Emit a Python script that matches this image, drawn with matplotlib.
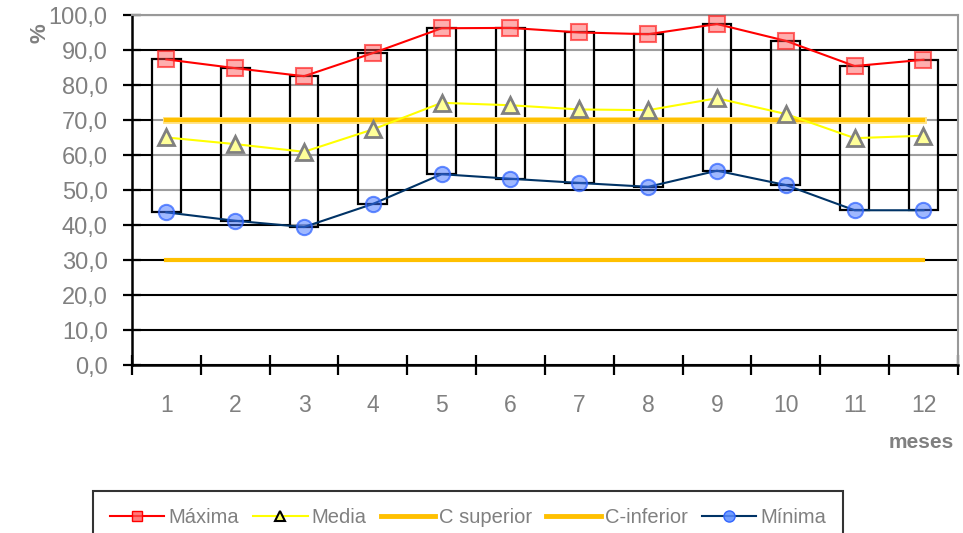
import matplotlib
matplotlib.use("Agg")
import matplotlib.pyplot as plt
import matplotlib.patheffects as pe
from matplotlib.lines import Line2D
from matplotlib.ticker import FixedLocator, FuncFormatter

plt.rcParams['font.family'] = ['Liberation Sans', 'DejaVu Sans']

# Monthly relative humidity (%)
meses = [1, 2, 3, 4, 5, 6, 7, 8, 9, 10, 11, 12]
maxima = [87.4, 84.9, 82.6, 89.2, 96.3, 96.4, 95.1, 94.6, 97.5, 92.7, 85.5, 87.3]
media = [65.1, 63.2, 61.0, 67.4, 75.0, 74.3, 73.1, 72.9, 76.3, 71.8, 64.9, 65.6]
minima = [43.7, 41.3, 39.5, 46.1, 54.6, 53.3, 52.1, 51.0, 55.6, 51.5, 44.3, 44.3]
c_superior = [70.0] * 12
c_inferior = [30.0] * 12

grey = '#808080'

fig = plt.figure(figsize=(9.63, 5.33), dpi=100)
ax = fig.add_axes([0.137, 0.3146, 0.8577, 0.6567])

# Range boxes from daily minimum to maximum
span = [a - b for a, b in zip(maxima, minima)]
ax.bar(meses, span, bottom=minima, width=0.42, facecolor=(1, 1, 1, 0.62),
       edgecolor='black', linewidth=1.6, zorder=2)

# Threshold lines
ax.plot(meses, c_superior, color='#FFC000', lw=3, zorder=3,
        path_effects=[pe.Stroke(linewidth=5, foreground='#FFE48A'), pe.Normal()])
ax.plot(meses, c_inferior, color='#FFC000', lw=3, zorder=3)

# Series
ax.plot(meses, maxima, color='#FF0000', lw=1.5, marker='s', ms=11,
        mfc=(1, 0.3, 0.3, 0.45), mec=(1, 0.1, 0.1, 0.65), mew=1.5, zorder=4)
ax.plot(meses, media, color='#FFFF00', lw=1.5, marker='^', ms=11,
        mfc='#FFFF99', mec=grey, mew=2, zorder=4)
ax.plot(meses, minima, color='#003366', lw=1.5, marker='o', ms=11,
        mfc=(0.25, 0.45, 1, 0.5), mec=(0.2, 0.4, 1, 0.75), mew=1.5, zorder=4)

ax.set_xlim(0.5, 12.5)
ax.set_ylim(0, 100)

ax.set_yticks([0, 10, 20, 30, 40, 50, 60, 70, 80, 90, 100])
ax.yaxis.set_major_formatter(FuncFormatter(lambda v, p: f"{v:.1f}".replace('.', ',')))
ax.set_xticks(meses)
ax.set_xticklabels([str(m) for m in meses])
ax.xaxis.set_minor_locator(FixedLocator([m + 0.5 for m in range(0, 13)]))

ax.tick_params(axis='y', which='major', direction='inout', length=13, width=1.6,
               color='black', labelsize=17, labelcolor=grey, pad=11)
ax.tick_params(axis='x', which='major', length=0, labelsize=16.5, labelcolor=grey, pad=21)
ax.tick_params(axis='x', which='minor', direction='inout', length=14, width=1.6,
               color='black')

ax.yaxis.grid(True, color='black', lw=1.5, zorder=0)
ax.set_axisbelow(True)

for side in ('left', 'bottom'):
    ax.spines[side].set_color('black')
    ax.spines[side].set_linewidth(1.8)
for side in ('top', 'right'):
    ax.spines[side].set_color('#999999')
    ax.spines[side].set_linewidth(1.5)

fig.text(40 / 963, 1 - 33 / 533, '%', rotation=90, fontsize=16, fontweight='bold',
         color=grey, ha='center', va='center')
fig.text(0.957, 0.169, 'meses', fontsize=15, fontweight='bold', color=grey,
         ha='center', va='center')

handles = [
    Line2D([], [], color='#FF0000', lw=1.5, marker='s', ms=7.5,
           mfc=(1, 0.3, 0.3, 0.75), mec='#FF0000'),
    Line2D([], [], color='#FFFF00', lw=1.5, marker='^', ms=6.5,
           mfc='#FFFF66', mec='black', mew=1.5),
    Line2D([], [], color='#FFC000', lw=3.5),
    Line2D([], [], color='#FFC000', lw=3.5),
    Line2D([], [], color='#003366', lw=1.5, marker='o', ms=8,
           mfc=(0.35, 0.55, 1, 0.85), mec='#3366FF'),
]
labels = ['Máxima', 'Media', 'C superior', 'C-inferior', 'Mínima']
leg = fig.legend(handles, labels, loc='upper left',
                 bbox_to_anchor=(93 / 963, 1 - 491 / 533), ncol=5, frameon=True,
                 fancybox=False, edgecolor='black', fontsize=14.5,
                 handlelength=2.7, handletextpad=0.2, columnspacing=0.7,
                 borderpad=0.85, borderaxespad=0)
leg.get_frame().set_linewidth(1.5)
for t in leg.get_texts():
    t.set_color(grey)

fig.savefig('out.png', dpi=100)
